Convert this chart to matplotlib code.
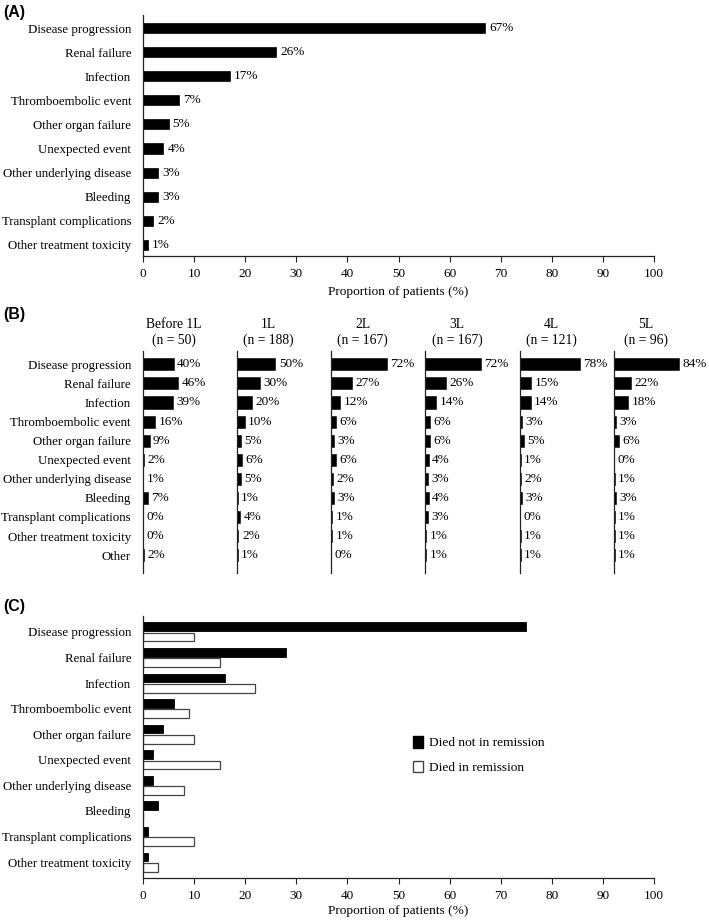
import matplotlib
matplotlib.use("Agg")
import matplotlib.pyplot as plt
from matplotlib.patches import Patch

plt.rcParams['font.family'] = ['Liberation Serif', 'DejaVu Serif']
plt.rcParams['font.size'] = 9.3

# ---------------- data ----------------
causes_a = ["Disease progression", "Renal failure", "Infection", "Thromboembolic event",
            "Other organ failure", "Unexpected event", "Other underlying disease", "Bleeding",
            "Transplant complications", "Other treatment toxicity"]
values_a = [67, 26, 17, 7, 5, 4, 3, 3, 2, 1]

causes_b = causes_a + ["Other"]
lines_b = ["Before 1L", "1L", "2L", "3L", "4L", "5L"]
n_b = [50, 188, 167, 167, 121, 96]
before1l = [40, 46, 39, 16, 9, 2, 1, 7, 0, 0, 2]
line1 = [50, 30, 20, 10, 5, 6, 5, 1, 4, 2, 1]
line2 = [72, 27, 12, 6, 3, 6, 2, 3, 1, 1, 0]
line3 = [72, 26, 14, 6, 6, 4, 3, 4, 3, 1, 1]
line4 = [78, 15, 14, 3, 5, 1, 2, 3, 0, 1, 1]
line5 = [84, 22, 18, 3, 6, 0, 1, 3, 1, 1, 1]
values_b = [before1l, line1, line2, line3, line4, line5]

causes_c = causes_a
not_remission = [75, 28, 16, 6, 4, 2, 2, 3, 1, 1]
in_remission = [10, 15, 22, 9, 10, 15, 8, 0, 10, 3]

xticks = list(range(0, 101, 10))
xlabel = "Proportion of patients (%)"

# ---------------- layout helpers ----------------
W, H = 709, 922
fig = plt.figure(figsize=(W / 100, H / 100), dpi=100)


def px_axes(left, top, right, bottom):
    return fig.add_axes([left / W, 1 - bottom / H, (right - left) / W, (bottom - top) / H])


spine_c = "#222222"
fs = 9.3


def style_main(ax):
    for s in ("top", "right"):
        ax.spines[s].set_visible(False)
    for s in ("left", "bottom"):
        ax.spines[s].set_linewidth(0.9)
        ax.spines[s].set_color(spine_c)
    ax.set_xlim(0, 100)
    ax.set_xticks(xticks)
    ax.tick_params(axis="x", length=4.2, width=0.8, pad=4.5, labelsize=9.5, color=spine_c)
    ax.tick_params(axis="y", length=0, pad=8.5, labelsize=fs)


# ---------------- Panel A ----------------
axA = px_axes(143, 15, 654, 256)
ya = list(range(len(causes_a)))
axA.barh(ya, values_a, height=0.42, color="black", edgecolor="black", linewidth=0.5)
axA.set_yticks(ya)
axA.set_yticklabels(causes_a)
axA.set_ylim(9.46, -0.54)
style_main(axA)
for y, v in zip(ya, values_a):
    axA.annotate(f"{v}%", (v, y), xytext=(3, 0), textcoords="offset points",
                 va="center", ha="left", fontsize=9.5)
axA.set_xlabel(xlabel, fontsize=9.6, labelpad=4)
fig.text(3 / W, 1 - 13 / H, "(A)", family="Liberation Sans", weight="bold",
         fontsize=11.5, va="center", ha="left")

# ---------------- Panel B ----------------
fig.text(3 / W, 1 - 315 / H, "(B)", family="Liberation Sans", weight="bold",
         fontsize=11.5, va="center", ha="left")
yb = list(range(len(causes_b)))
for i, (name, n, vals) in enumerate(zip(lines_b, n_b, values_b)):
    left = 142.7 + i * 94.26
    ax = px_axes(left, 351, left + 77, 573)
    ax.barh(yb, vals, height=0.63, color="black", edgecolor="black", linewidth=0.4)
    ax.set_xlim(0, 100)
    ax.set_ylim(10.94, -0.70)
    for s in ("top", "right", "bottom"):
        ax.spines[s].set_visible(False)
    ax.spines["left"].set_linewidth(0.9)
    ax.spines["left"].set_color(spine_c)
    ax.set_xticks([])
    ax.set_yticks(yb)
    ax.tick_params(axis="y", length=0, pad=8.5, labelsize=fs)
    if i == 0:
        ax.set_yticklabels(causes_b)
    else:
        ax.set_yticklabels([])
    for y, v in zip(yb, vals):
        ax.annotate(f"{v}%", (v, y), xytext=(2.5, 0), textcoords="offset points",
                    va="center", ha="left", fontsize=9.5, annotation_clip=False)
    ax.text(0.41, 1.083, f"{name}\n(n = {n})", transform=ax.transAxes,
            ha="center", va="center", fontsize=9.8, linespacing=1.2)

# ---------------- Panel C ----------------
fig.text(3 / W, 1 - 607 / H, "(C)", family="Liberation Sans", weight="bold",
         fontsize=11.5, va="center", ha="left")
axC = px_axes(143, 616, 654, 878)
yc = list(range(len(causes_c)))
bh = 0.34
axC.barh([y - 0.2 for y in yc], not_remission, height=bh, color="black",
         edgecolor="black", linewidth=0.6, label="Died not in remission")
axC.barh([y + 0.2 for y in yc], in_remission, height=bh, color="white",
         edgecolor="#444444", linewidth=0.9, label="Died in remission")
axC.set_yticks(yc)
axC.set_yticklabels(causes_c)
axC.set_ylim(9.62, -0.62)
style_main(axC)
axC.set_xlabel(xlabel, fontsize=9.6, labelpad=2)
handles = [Patch(facecolor="black", edgecolor="black", label="Died not in remission"),
           Patch(facecolor="white", edgecolor="#444444", label="Died in remission")]
axC.legend(handles=handles, loc="center left", bbox_to_anchor=(0.528, 0.47),
           frameon=False, fontsize=9.6, handlelength=0.75, handleheight=1.0,
           handletextpad=0.5, labelspacing=0.85, borderpad=0, borderaxespad=0)

fig.savefig("out.png", dpi=100)
